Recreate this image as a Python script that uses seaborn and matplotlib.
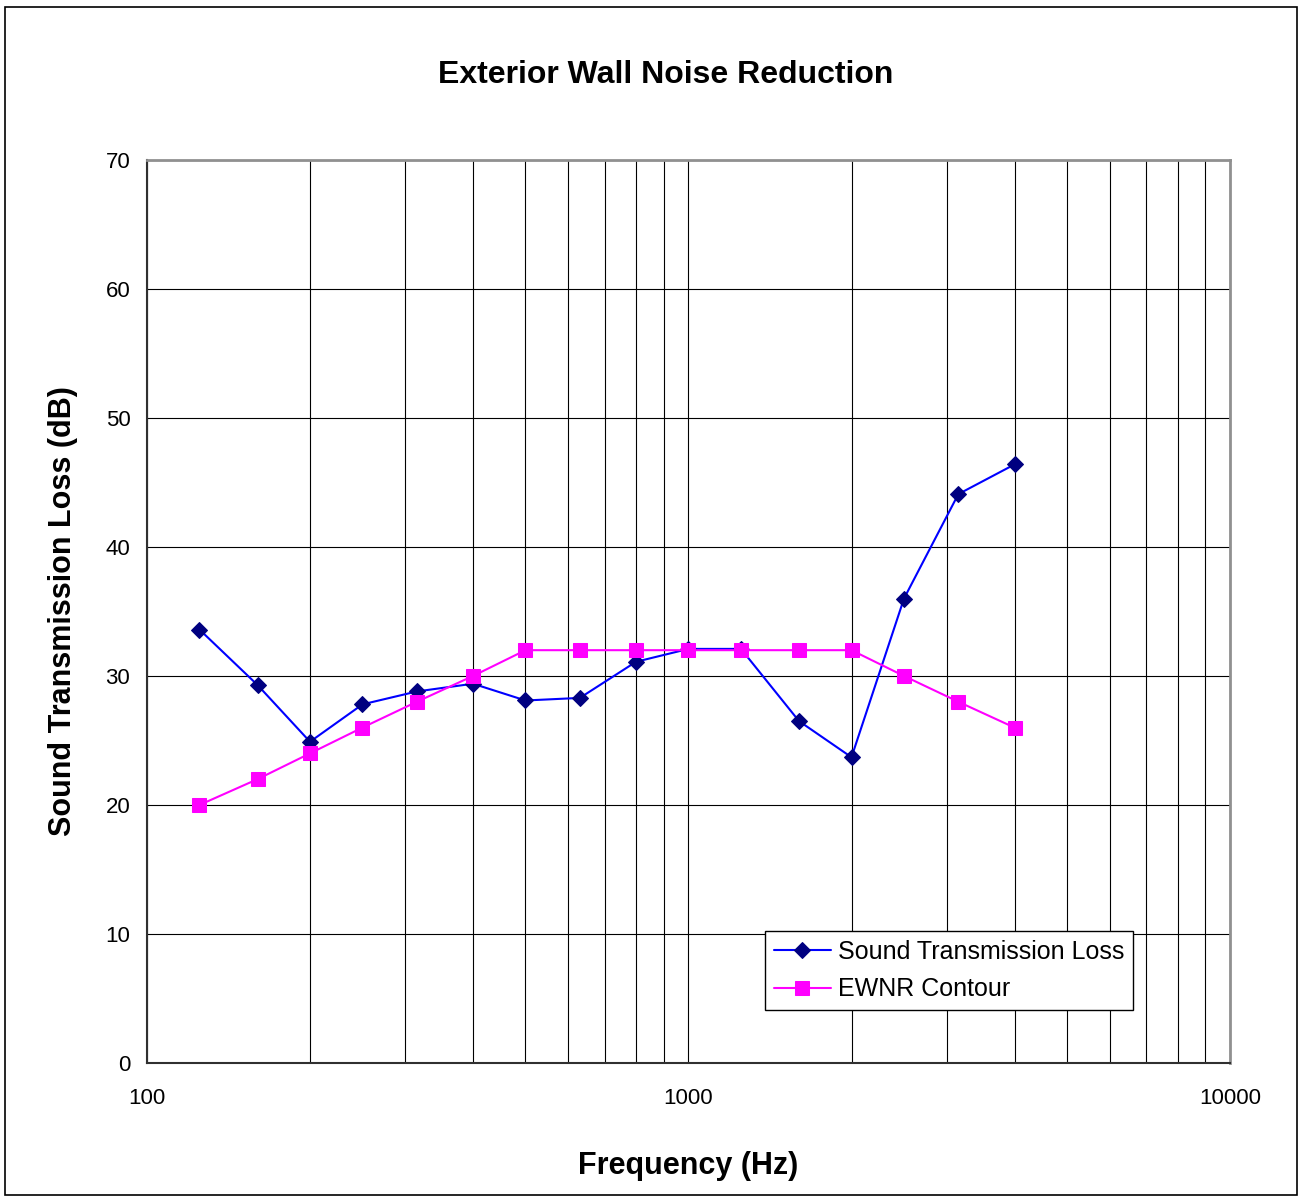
import numpy as np
import pandas as pd
import matplotlib
matplotlib.use("Agg")
import matplotlib.pyplot as plt
import seaborn as sns
from matplotlib.ticker import LogLocator, NullFormatter, FixedLocator, FixedFormatter

freqs = [125, 160, 200, 250, 315, 400, 500, 630, 800, 1000, 1250, 1600, 2000, 2500, 3150, 4000]
stl = [33.6, 29.3, 24.9, 27.8, 28.8, 29.4, 28.1, 28.3, 31.1, 32.1, 32.1, 26.5, 23.7, 36.0, 44.1, 46.4]
ewnr = [20, 22, 24, 26, 28, 30, 32, 32, 32, 32, 32, 32, 32, 30, 28, 26]

df = pd.DataFrame({'Frequency': freqs, 'Sound Transmission Loss': stl, 'EWNR Contour': ewnr})

sns.set_style("white")
plt.rcParams['font.family'] = ['Liberation Sans', 'DejaVu Sans']
plt.rcParams['text.color'] = 'black'
plt.rcParams['axes.labelcolor'] = 'black'
plt.rcParams['xtick.color'] = 'black'
plt.rcParams['ytick.color'] = 'black'

fig = plt.figure(figsize=(13.02, 11.97), dpi=100)
ax = fig.add_axes([0.1129, 0.112, 0.8318, 0.7543])

sns.lineplot(data=df, x='Frequency', y='Sound Transmission Loss', ax=ax, color='#0000ff',
             marker='D', markersize=8, markerfacecolor='#000080', markeredgecolor='#000080',
             linewidth=1.5, label='Sound Transmission Loss')
sns.lineplot(data=df, x='Frequency', y='EWNR Contour', ax=ax, color='#ff00ff',
             marker='s', markersize=10, markerfacecolor='#ff00ff', markeredgecolor='#ff00ff',
             linewidth=1.5, label='EWNR Contour')

ax.set_xscale('log')
ax.set_xlim(100, 10000)
ax.set_ylim(0, 70)
ax.set_yticks(range(0, 71, 10))
ax.xaxis.set_major_locator(FixedLocator([100, 1000, 10000]))
ax.xaxis.set_major_formatter(FixedFormatter(['100', '1000', '10000']))
ax.xaxis.set_minor_locator(LogLocator(base=10, subs=np.arange(2, 10)))
ax.xaxis.set_minor_formatter(NullFormatter())

ax.grid(True, which='both', axis='x', color='black', linewidth=0.8)
ax.grid(True, which='major', axis='y', color='black', linewidth=0.8)

ax.tick_params(axis='both', which='major', direction='out', length=6, width=1,
               labelsize=16, color='black', labelcolor='black', pad=6)
ax.tick_params(axis='x', which='minor', direction='out', length=5, width=1, color='black')
ax.tick_params(axis='x', which='major', pad=12)

for side in ['left', 'bottom']:
    ax.spines[side].set_color('#303030')
    ax.spines[side].set_linewidth(1.5)
for side in ['top', 'right']:
    ax.spines[side].set_color('#909090')
    ax.spines[side].set_linewidth(2)

ax.set_xlabel('Frequency (Hz)', fontsize=22, fontweight='bold', labelpad=30, color='black')
ax.set_ylabel('Sound Transmission Loss (dB)', fontsize=22, fontweight='bold', labelpad=20,
              color='black')
fig.text(0.511, 0.937, 'Exterior Wall Noise Reduction', fontsize=23, fontweight='bold',
         ha='center', va='center', color='black')

leg = ax.legend(loc='lower left', bbox_to_anchor=(0.5705, 0.0585), fontsize=18, frameon=True,
                fancybox=False, edgecolor='black', framealpha=1, borderpad=0.35,
                handlelength=2.3, handletextpad=0.28, labelspacing=0.55, borderaxespad=0)
leg.get_frame().set_linewidth(1)
for t in leg.get_texts():
    t.set_color('black')

fig.patches.append(plt.Rectangle((0.004, 0.002), 0.992, 0.992, transform=fig.transFigure,
                                 fill=False, edgecolor='black', linewidth=1.2))

fig.savefig('out.png', dpi=100, facecolor='white')
